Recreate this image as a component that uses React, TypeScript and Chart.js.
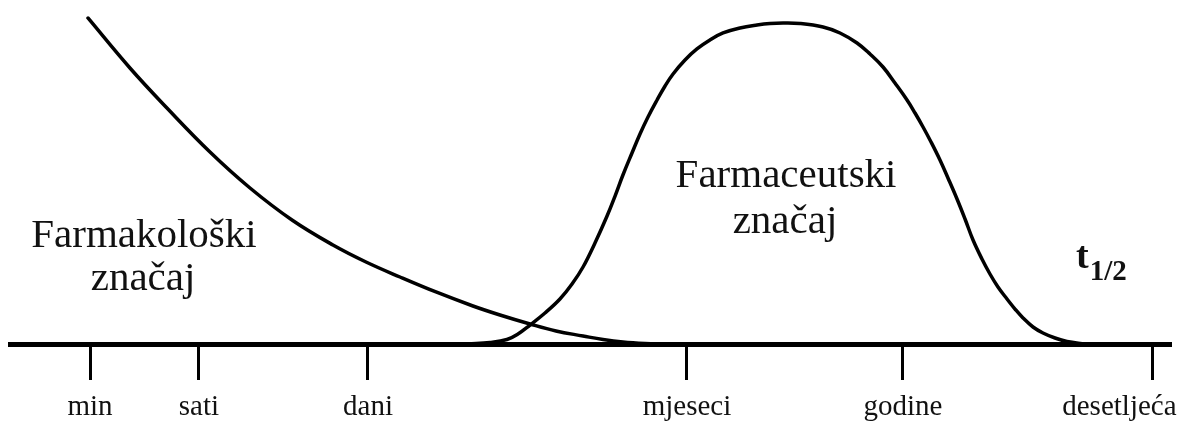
import React, { useEffect, useRef } from "react";
import { Chart, registerables } from "chart.js";

Chart.register(...registerables);

// Axis ticks (abstract time axis, 0..100)
const tickValues = [6.9, 16.29, 30.86, 58.36, 76.98, 98.45];
const tickLabels = ["min", "sati", "dani", "mjeseci", "godine", "desetljeća"];

// Pharmacological significance (decaying curve)
const pharmacologicalX = [
  6.72, 10.34, 13.53, 17.24, 20.69, 24.31, 27.84, 30.69, 33.62, 36.72, 39.91, 42.24, 44.83,
  47.07, 49.4, 51.12, 52.84, 54.74, 56.47,
];
const pharmacologicalY = [
  94.77, 80.23, 68.6, 55.81, 45.35, 36.05, 28.78, 23.84, 19.48, 15.12, 11.05, 8.43, 5.81,
  3.78, 2.33, 1.31, 0.58, 0.15, 0,
];

// Pharmaceutical significance (bell curve)
const pharmaceuticalX = [
  39.48, 41.38, 42.84, 43.79, 44.83, 46.12, 47.41, 48.45, 49.4, 50.43, 51.47, 52.16, 52.84,
  53.62, 54.31, 55.0, 55.78, 56.47, 57.16, 58.19, 59.22, 60.34, 61.47, 62.93, 64.4, 65.52,
  66.64, 68.1, 70.09, 71.55, 73.02, 74.14, 75.26, 76.29, 77.33, 78.02, 78.71, 79.4, 80.17,
  80.86, 81.64, 82.33, 83.02, 83.79, 84.48, 85.17, 85.95, 86.64, 87.33, 88.19, 89.05, 90.09,
  91.12, 92.67,
];
const pharmaceuticalY = [
  0, 0.44, 1.31, 2.91, 5.52, 9.01, 13.08, 17.44, 22.38, 29.36, 37.21, 43.02, 49.13, 55.52,
  61.05, 65.99, 70.93, 75.0, 78.49, 82.56, 85.76, 88.37, 90.41, 91.86, 92.73, 93.17, 93.31,
  93.17, 92.15, 90.41, 87.5, 84.3, 80.52, 75.87, 70.93, 67.15, 63.08, 58.72, 53.49, 48.26,
  42.15, 36.34, 30.23, 24.71, 20.35, 16.57, 13.08, 10.17, 7.56, 4.94, 3.2, 1.74, 0.73, 0,
];

// Text annotations
const noteTexts = ["Farmakološki", "značaj", "Farmaceutski", "značaj"];
const noteX = [11.55, 11.47, 66.9, 66.81];
const noteY = [28.2, 15.7, 45.64, 32.27];

const halfLifeMain = "t";
const halfLifeSub = "1/2";
const halfLifeX = 91.9;
const halfLifeY = 22.09;
const halfLifeSubY = 18.6;

const FONT = '"Liberation Serif", "Times New Roman", serif';

const toPoints = (xs: number[], ys: number[]) => xs.map((x, i) => ({ x, y: ys[i] }));

const notesPlugin = {
  id: "notes",
  afterDatasetsDraw(chart: any) {
    const { ctx, scales } = chart;
    const xs = scales.x;
    const ys = scales.y;
    ctx.save();
    ctx.fillStyle = "#111";
    ctx.textBaseline = "alphabetic";
    ctx.textAlign = "center";
    ctx.font = `41px ${FONT}`;
    noteTexts.forEach((t, i) => {
      ctx.fillText(t, xs.getPixelForValue(noteX[i]), ys.getPixelForValue(noteY[i]));
    });
    ctx.textAlign = "left";
    ctx.font = `bold 38px ${FONT}`;
    const tx = xs.getPixelForValue(halfLifeX);
    ctx.fillText(halfLifeMain, tx, ys.getPixelForValue(halfLifeY));
    const tw = ctx.measureText(halfLifeMain).width;
    ctx.font = `bold 29px ${FONT}`;
    ctx.fillText(halfLifeSub, tx + tw + 1, ys.getPixelForValue(halfLifeSubY));
    ctx.restore();
  },
};

const lineStyle = {
  borderColor: "#000",
  borderWidth: 3.5,
  pointRadius: 0,
  tension: 0.4,
  borderCapStyle: "round",
  borderJoinStyle: "round",
  fill: false,
};

export default function App() {
  const ref = useRef<HTMLCanvasElement | null>(null);

  useEffect(() => {
    if (!ref.current) return;
    const last = tickLabels.length - 1;
    const chart = new Chart(ref.current, {
      type: "line",
      data: {
        datasets: [
          {
            label: "Farmakološki značaj",
            data: toPoints(pharmacologicalX, pharmacologicalY),
            ...lineStyle,
          },
          {
            label: "Farmaceutski značaj",
            data: toPoints(pharmaceuticalX, pharmaceuticalY),
            ...lineStyle,
          },
        ],
      },
      options: {
        animation: false,
        responsive: false,
        devicePixelRatio: 1,
        layout: { padding: { left: 10, right: 13, top: 0, bottom: 0 } },
        plugins: {
          legend: { display: false },
          tooltip: { enabled: false },
        },
        scales: {
          x: {
            type: "linear",
            min: 0,
            max: 100,
            position: "bottom",
            afterBuildTicks: (scale: any) => {
              scale.ticks = tickValues.map((v) => ({ value: v }));
            },
            afterFit: (scale: any) => {
              scale.height = 77;
              scale.paddingLeft = 0;
              scale.paddingRight = 0;
            },
            border: { display: true, color: "#000", width: 5 },
            grid: {
              display: true,
              drawOnChartArea: false,
              drawTicks: true,
              tickLength: 36,
              tickWidth: 3,
              tickColor: "#000",
              color: "#000",
              lineWidth: 3,
            },
            ticks: {
              autoSkip: false,
              maxRotation: 0,
              minRotation: 0,
              padding: 10,
              color: "#111",
              font: { family: FONT, size: 29 },
              callback: (_v: any, i: number) =>
                i === last ? tickLabels[i] + "         " : tickLabels[i],
            },
          },
          y: {
            type: "linear",
            min: 0,
            max: 100,
            display: false,
          },
        },
      },
      plugins: [notesPlugin],
    } as any);
    return () => chart.destroy();
  }, []);

  return (
    <div style={{ position: "absolute", left: 0, top: 0, width: 1183, height: 421, background: "#fff" }}>
      <canvas ref={ref} width={1183} height={421} />
    </div>
  );
}
